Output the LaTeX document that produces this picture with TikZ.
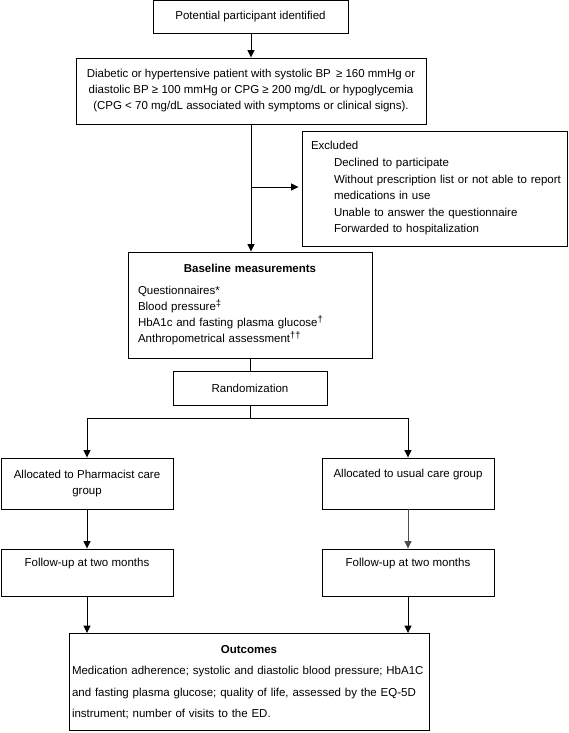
\documentclass[tikz,border=0pt]{standalone}
\usepackage{fontspec}
\setmainfont{Liberation Sans}
\usetikzlibrary{arrows.meta}
\newcommand{\fs}{\fontsize{11.5}{16}\selectfont}
\newcommand{\supmark}[1]{\raisebox{4.5pt}{\fontsize{9.5}{9.5}\selectfont #1}}
\newcommand{\exitem}[1]{\hspace*{23pt}\mbox{#1}}
\begin{document}
\begin{tikzpicture}[x=1pt,y=-1pt,
  box/.style={draw, line width=0.9pt, inner sep=0pt, font=\fs, align=center},
  arr/.style={-{Triangle[length=7.5pt,width=7pt]}, line width=0.9pt},
  ln/.style={line width=0.9pt}]
\useasboundingbox (0,0) rectangle (568,733);
\node[box, minimum width=195pt, minimum height=33pt] (b1) at (250.5,17) {Potential participant identified};
\node[box, minimum width=350pt, minimum height=66pt] (b2) at (251,91)
  {Diabetic or hypertensive patient with systolic BP\, ≥ 160 mmHg or\\
   diastolic BP ≥ 100 mmHg or CPG ≥ 200 mg/dL or hypoglycemia\\
   (CPG < 70 mg/dL associated with symptoms or clinical signs).};
\node[box, minimum width=265pt, minimum height=115pt, text width=247pt, align=left, font=\fontsize{11.5}{16.6}\selectfont] (ex) at (434.5,188.5)
  {Excluded\\
   \exitem{Declined to participate}\\
   \exitem{Without prescription list or not able to report}\\
   \exitem{medications in use}\\
   \exitem{Unable to answer the questionnaire}\\
   \exitem{Forwarded to hospitalization}};
\node[box, minimum width=244pt, minimum height=106pt, text width=224pt, align=left] (base) at (250,305)
  {\makebox[224pt]{\bfseries Baseline measurements}\\[6pt]
   Questionnaires*\\
   Blood pressure\supmark{‡}\\
   HbA1c and fasting plasma glucose\supmark{†}\\
   Anthropometrical assessment\supmark{††}};
\node[box, minimum width=154pt, minimum height=34pt] (rand) at (250,388) {Randomization};
\node[box, minimum width=172pt, minimum height=51pt] (alL) at (87,483.5) {Allocated to Pharmacist care\\group};
\node[box, minimum width=172pt, minimum height=51pt] (alR) at (408,483.5) {Allocated to usual care group\\ \strut};
\node[box, minimum width=172pt, minimum height=47pt] (fuL) at (87,572.5) {Follow-up at two months\\ \strut};
\node[box, minimum width=172pt, minimum height=47pt] (fuR) at (408,572.5) {Follow-up at two months\\ \strut};
\node[box, minimum width=360pt, minimum height=97pt, text width=354pt, align=left, font=\fontsize{11.5}{21.5}\selectfont] (out) at (249,682)
  {\makebox[354pt]{\bfseries Outcomes}\\
   Medication adherence; systolic and diastolic blood pressure; HbA1C\\
   and fasting plasma glucose; quality of life, assessed by the EQ-5D\\
   instrument; number of visits to the ED.};
\coordinate (j) at (251,187);
\coordinate (br) at (250,418);
\draw[arr] (b1.south -| j) -- (b2.north -| j);
\draw[ln] (b2.south -| j) -- (j);
\draw[arr] (j) -- (base.north -| j);
\draw[arr, shorten >=3pt] (j) -- (j -| ex.west);
\draw[ln] (base.south -| br) -- (rand.north -| br);
\draw[ln] (rand.south -| br) -- (br);
\draw[arr] (br) -| (alL.north);
\draw[arr] (br) -| (alR.north);
\draw[arr] (alL) -- (fuL);
\draw[arr, draw=black!70] (alR) -- (fuR);
\draw[arr] (fuL.south) -- (fuL.south |- out.north);
\draw[arr] (fuR.south) -- (fuR.south |- out.north);
\end{tikzpicture}
\end{document}
